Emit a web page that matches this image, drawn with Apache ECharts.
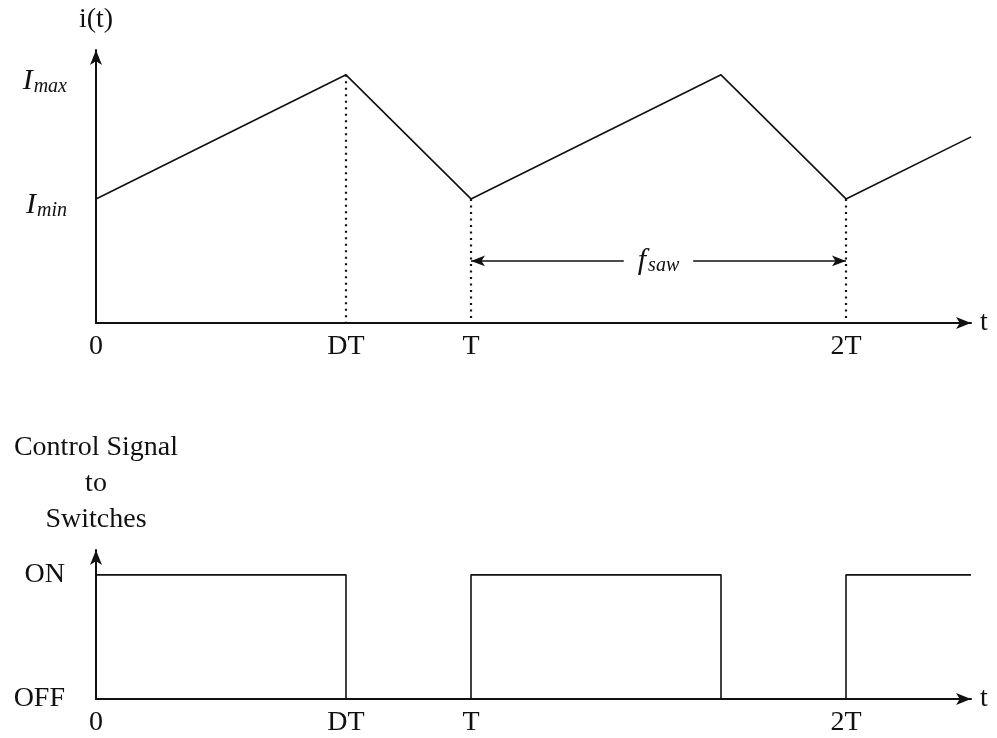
<!DOCTYPE html>
<html>
<head>
<meta charset="utf-8">
<script src="https://cdn.jsdelivr.net/npm/echarts@6/dist/echarts.min.js"></script>
<style>
  html, body { margin: 0; padding: 0; background: #fff; }
  #chart { width: 997px; height: 738px; }
</style>
</head>
<body>
<div id="chart"></div>
<script>
// 时间轴刻度 (单位: T/3)
const timeTicks = [0, 2, 3, 6];
const timeLabels = ['0', 'DT', 'T', '2T'];

// 电流三角波
const sawTime = [0, 2, 3, 5, 6, 7];
const sawCurrent = [1, 2, 1, 2, 1, 1.5];
const currentTicks = [1, 2];
const currentLabels = ['min', 'max'];

// 开关控制信号
const ctrlTime = [0, 2, 3, 5, 6, 7];
const ctrlState = [1, 0, 1, 0, 1, 1];
const stateTicks = [0, 1];
const stateLabels = ['OFF', 'ON'];

// 虚线所在的点 (DT, T, 2T)
const dropIndex = [1, 2, 4];
// f_saw 箭头
const fsawSpan = [3, 6];
const fsawLevel = 0.5;

const FONT = 'Liberation Serif';
const INK = '#111';

const chart = echarts.init(document.getElementById('chart'));

const axisLine = {
  show: true,
  symbol: ['none', 'arrow'],
  symbolSize: [9, 15],
  symbolOffset: [0, 0],
  lineStyle: { color: INK, width: 2 }
};

const xAxisBase = {
  type: 'value',
  min: 0,
  max: 7,
  name: 't',
  nameLocation: 'end',
  nameGap: 9,
  nameTextStyle: { fontFamily: FONT, fontSize: 28, color: INK },
  axisLine: axisLine,
  axisTick: { show: false },
  splitLine: { show: false },
  axisLabel: {
    customValues: timeTicks,
    formatter: v => timeLabels[timeTicks.indexOf(v)],
    fontFamily: FONT,
    fontSize: 28,
    color: INK,
    margin: 10
  }
};

const option = {
  backgroundColor: '#fff',
  animation: false,
  grid: [
    { left: 96, right: 26, top: 50, height: 273 },
    { left: 96, right: 26, top: 550, height: 149 }
  ],
  xAxis: [
    Object.assign({ gridIndex: 0 }, xAxisBase),
    Object.assign({ gridIndex: 1 }, xAxisBase)
  ],
  yAxis: [
    {
      gridIndex: 0,
      type: 'value',
      min: 0,
      max: 2.2,
      name: 'i(t)',
      nameLocation: 'end',
      nameGap: 16,
      nameTextStyle: { fontFamily: FONT, fontSize: 28, color: INK, align: 'center' },
      axisLine: axisLine,
      axisTick: { show: false },
      splitLine: { show: false },
      axisLabel: {
        customValues: currentTicks,
        formatter: v => '{i|I}{s|' + currentLabels[currentTicks.indexOf(v)] + '}',
        margin: 29,
        padding: [12, 0, 0, 0],
        rich: {
          i: { fontFamily: FONT, fontStyle: 'italic', fontSize: 30, color: INK },
          s: { fontFamily: FONT, fontStyle: 'italic', fontSize: 20, color: INK, padding: [12, 0, 0, 1] }
        }
      }
    },
    {
      gridIndex: 1,
      type: 'value',
      min: 0,
      max: 1.2,
      name: 'Control Signal\nto\nSwitches',
      nameLocation: 'end',
      nameGap: 12,
      nameTextStyle: { fontFamily: FONT, fontSize: 28, color: INK, align: 'center', lineHeight: 36 },
      axisLine: axisLine,
      axisTick: { show: false },
      splitLine: { show: false },
      axisLabel: {
        customValues: stateTicks,
        formatter: v => stateLabels[stateTicks.indexOf(v)],
        fontFamily: FONT,
        fontSize: 28,
        color: INK,
        margin: 31,
        padding: [12, 0, 0, 0]
      }
    }
  ],
  series: [
    {
      type: 'line',
      xAxisIndex: 0,
      yAxisIndex: 0,
      data: sawTime.map((t, i) => [t, sawCurrent[i]]),
      showSymbol: false,
      lineStyle: { color: INK, width: 1.6 },
      markLine: {
        silent: true,
        symbol: ['none', 'none'],
        label: { show: false },
        lineStyle: { color: INK, type: [2, 4.5], width: 2.2 },
        data: dropIndex.map(i => [
          { coord: [sawTime[i], sawCurrent[i]] },
          { coord: [sawTime[i], 0] }
        ])
      }
    },
    {
      type: 'line',
      xAxisIndex: 0,
      yAxisIndex: 0,
      data: [],
      markLine: {
        silent: true,
        symbol: ['arrow', 'arrow'],
        symbolSize: [8, 14],
        lineStyle: { color: INK, type: 'solid', width: 1.6 },
        label: {
          show: true,
          position: 'middle',
          distance: 0,
          verticalAlign: 'middle',
          formatter: '{f|f}{s|saw}',
          backgroundColor: '#fff',
          padding: [0, 14, 0, 14],
          rich: {
            f: { fontFamily: FONT, fontStyle: 'italic', fontSize: 30, color: INK },
            s: { fontFamily: FONT, fontStyle: 'italic', fontSize: 20, color: INK, padding: [10, 0, 0, 2] }
          }
        },
        data: [[
          { coord: [fsawSpan[0], fsawLevel] },
          { coord: [fsawSpan[1], fsawLevel] }
        ]]
      }
    },
    {
      type: 'line',
      xAxisIndex: 1,
      yAxisIndex: 1,
      step: 'end',
      data: ctrlTime.map((t, i) => [t, ctrlState[i]]),
      showSymbol: false,
      lineStyle: { color: INK, width: 1.6 }
    }
  ]
};

chart.setOption(option);
</script>
</body>
</html>
